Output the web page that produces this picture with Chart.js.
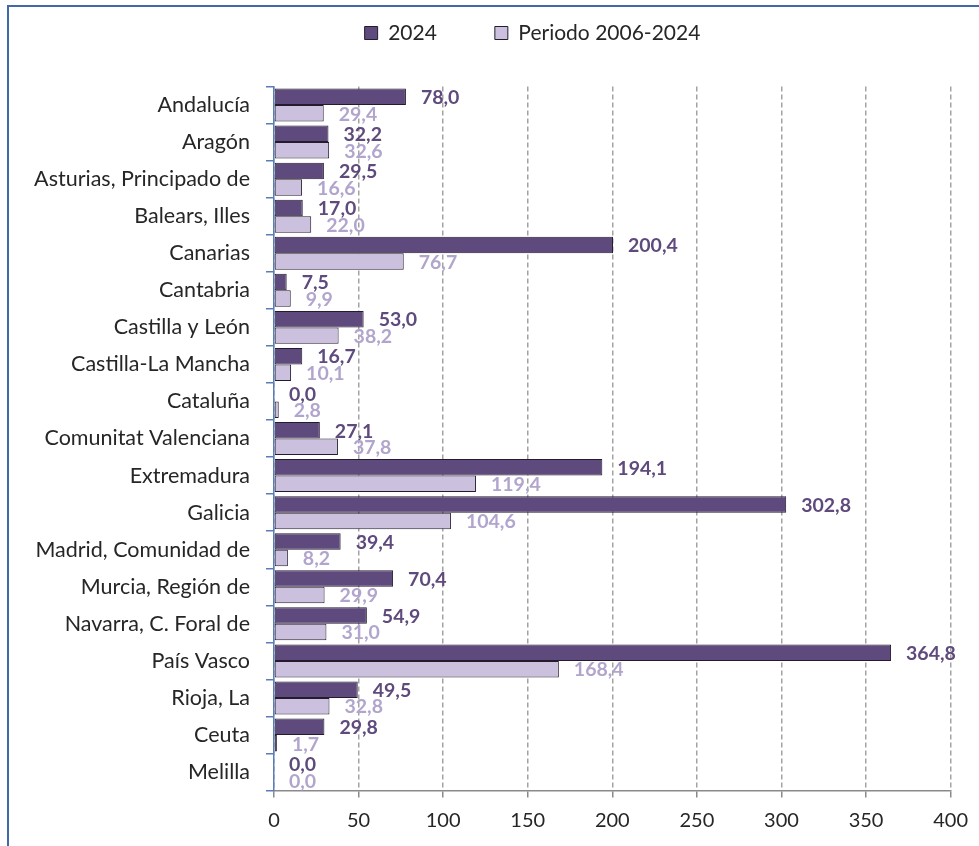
<!DOCTYPE html>
<html lang="es">
<head>
<meta charset="utf-8">
<title>2024 vs Periodo 2006-2024</title>
<script src="https://cdn.jsdelivr.net/npm/chart.js@4/dist/chart.umd.min.js"></script>
<style>
  html, body { margin: 0; padding: 0; background: #fff; overflow: hidden; }
  #wrap { position: relative; width: 979px; height: 846px; }
  #frame { position: absolute; left: 7px; top: 5px; right: -10px; bottom: -10px;
           border-left: 2px solid #4168a8; border-top: 2px solid #4168a8; pointer-events: none; }
  canvas { position: absolute; left: 0; top: 0; }
</style>
</head>
<body>
<div id="wrap">
  <canvas id="chart" width="979" height="846"></canvas>
  <div id="frame"></div>
</div>
<script>
// ---- data ---------------------------------------------------------------
const categories = [
  'Andalucía', 'Aragón', 'Asturias, Principado de', 'Balears, Illes', 'Canarias',
  'Cantabria', 'Castilla y León', 'Castilla-La Mancha', 'Cataluña', 'Comunitat Valenciana',
  'Extremadura', 'Galicia', 'Madrid, Comunidad de', 'Murcia, Región de', 'Navarra, C. Foral de',
  'País Vasco', 'Rioja, La', 'Ceuta', 'Melilla',
];
const values2024 = [78.0, 32.2, 29.5, 17.0, 200.4, 7.5, 53.0, 16.7, 0.0, 27.1,
  194.1, 302.8, 39.4, 70.4, 54.9, 364.8, 49.5, 29.8, 0.0];
const valuesPeriod = [29.4, 32.6, 16.6, 22.0, 76.7, 9.9, 38.2, 10.1, 2.8, 37.8,
  119.4, 104.6, 8.2, 29.9, 31.0, 168.4, 32.8, 1.7, 0.0];
const seriesNames = ['2024', 'Periodo 2006-2024'];
const xTicks = { min: 0, max: 400, step: 50 };

const FILLS = ['#5e4a7c', '#cbc1de'];
const LABEL_COLORS = ['#5e4a7c', '#b2a5cd'];
const TEXT = '#262626';

Chart.defaults.font.family = 'Lato';

function fmt(v) { return v.toFixed(1).replace('.', ','); }

// value labels at the end of each bar (no datalabels plugin offline)
const barLabels = {
  id: 'barLabels',
  afterDatasetsDraw(chart) {
    const { ctx } = chart;
    ctx.save();
    ctx.font = 'bold 19.5px Lato';
    ctx.textAlign = 'left';
    ctx.textBaseline = 'middle';
    chart.data.datasets.forEach((ds, i) => {
      ctx.fillStyle = LABEL_COLORS[i];
      chart.getDatasetMeta(i).data.forEach((bar, j) => {
        ctx.fillText(fmt(ds.data[j]), bar.x + 15, bar.y + 1);
      });
    });
    ctx.restore();
  },
};

// legend sits higher and a bit right of where Chart.js would centre it
const legendPlacement = {
  id: 'legendPlacement',
  beforeInit(chart) {
    const legend = chart.legend;
    const fit = legend.fit;
    legend.fit = function () { fit.call(this); this.height = 86.5; };
    const draw = legend.draw;
    legend.draw = function () {
      this.ctx.save();
      this.ctx.translate(56.5, -35.5);
      draw.call(this);
      this.ctx.restore();
    };
  },
};

new Chart(document.getElementById('chart'), {
  type: 'bar',
  data: {
    labels: categories,
    datasets: [values2024, valuesPeriod].map((d, i) => ({
      label: seriesNames[i],
      data: d,
      backgroundColor: FILLS[i],
      borderColor: '#241b2e',
      borderWidth: 1,
      borderSkipped: false,
      categoryPercentage: 0.89,
      barPercentage: 1,
    })),
  },
  options: {
    indexAxis: 'y',
    responsive: false,
    animation: false,
    devicePixelRatio: 1,
    layout: { padding: { left: 0, right: 27, top: 0, bottom: 0 } },
    plugins: {
      tooltip: { enabled: false },
      legend: {
        position: 'top',
        labels: { color: TEXT, font: { size: 21 }, boxWidth: 13, boxHeight: 13, padding: 58 },
      },
    },
    scales: {
      x: {
        min: xTicks.min,
        max: xTicks.max,
        ticks: { stepSize: xTicks.step, color: TEXT, font: { size: 20 }, padding: 11 },
        grid: { color: '#a3a3a3', lineWidth: 1.5, tickLength: 7, tickColor: '#8a8a8a' },
        border: { color: '#8a8a8a', width: 1.5, dash: [5, 3] },
        afterFit: (scale) => { scale.height = 55.4; },
      },
      y: {
        ticks: { color: TEXT, font: { size: 21.5 }, padding: 16 },
        grid: { offset: true, drawOnChartArea: false, tickLength: 8, color: '#5b7db6', lineWidth: 1.5 },
        border: { color: '#5b7db6', width: 1.5 },
        afterFit: (scale) => { scale.width = 274; },
      },
    },
  },
  plugins: [barLabels, legendPlacement],
});
</script>
</body>
</html>
